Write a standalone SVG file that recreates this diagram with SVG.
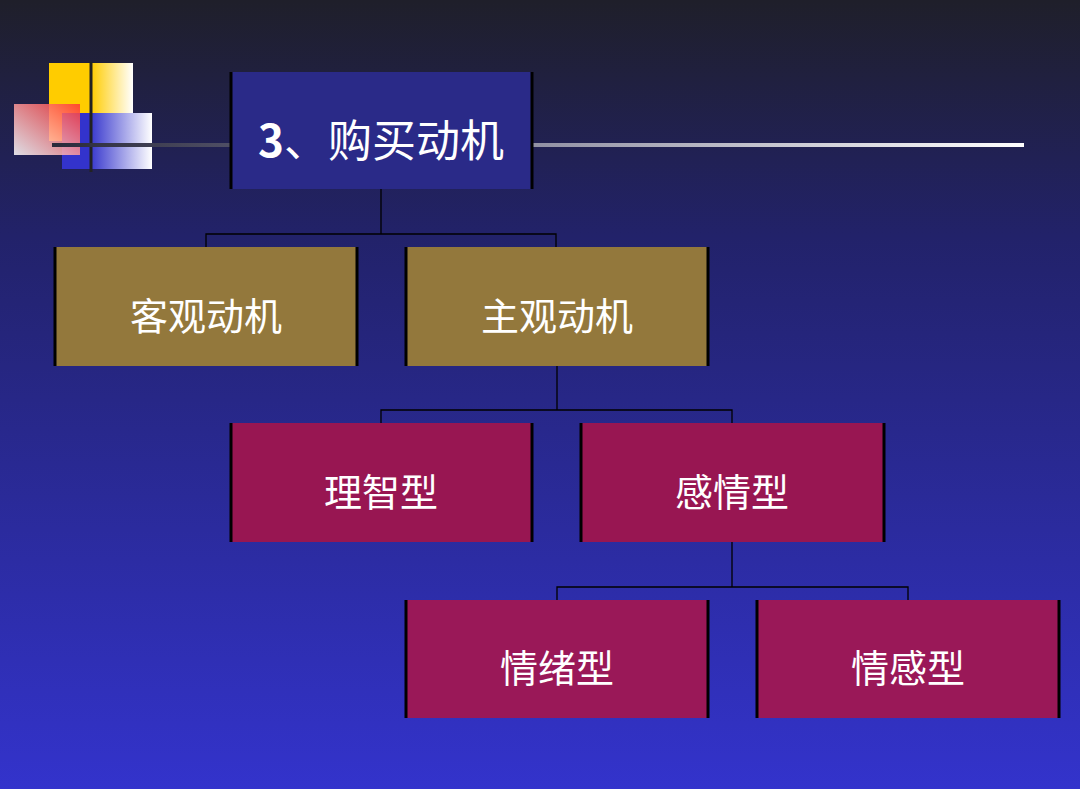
<svg xmlns="http://www.w3.org/2000/svg" width="1080" height="789" viewBox="0 0 1080 789">
<defs>
<linearGradient id="bg" x1="0" y1="0" x2="0" y2="1"><stop offset="0" stop-color="#1f1f2a"/><stop offset="0.3" stop-color="#22226a"/><stop offset="1" stop-color="#3333cc"/></linearGradient>
<linearGradient id="ln" x1="0" y1="0" x2="1" y2="0"><stop offset="0" stop-color="#2a2a3a"/><stop offset="0.3" stop-color="#666680"/><stop offset="1" stop-color="#ffffff"/></linearGradient>
<linearGradient id="yl" x1="0" y1="0" x2="1" y2="0"><stop offset="0.5" stop-color="#ffcc00"/><stop offset="1" stop-color="#ffffff"/></linearGradient>
<linearGradient id="bl" x1="0" y1="0" x2="1" y2="0"><stop offset="0.3" stop-color="#3333cc"/><stop offset="1" stop-color="#ffffff"/></linearGradient>
<linearGradient id="rd" x1="1" y1="0" x2="0" y2="1"><stop offset="0" stop-color="#ff3333"/><stop offset="1" stop-color="#ffffff"/></linearGradient>
<style>
.t{font-family:"Noto Sans CJK SC","Noto Sans",sans-serif;fill:#fff;font-size:38px;text-anchor:middle;dominant-baseline:central}
.e{stroke:#000;stroke-width:3}
.c{stroke:#000;stroke-width:1.3;fill:none}
</style>
</defs>
<rect width="1080" height="789" fill="url(#bg)"/>
<rect x="49" y="63" width="84" height="78" fill="url(#yl)"/>
<rect x="62" y="113" width="90" height="56" fill="url(#bl)"/>
<rect x="14" y="104" width="66" height="51" fill="url(#rd)" opacity="0.85"/>
<line x1="91" y1="62" x2="91" y2="172" stroke="#222" stroke-width="3"/>
<rect x="52" y="143" width="972" height="4" fill="url(#ln)"/>
<g id="connectors">
<path class="c" d="M381 189V234M206 247V234H556V247"/>
<path class="c" d="M557 366V410M381 423V410H732V423"/>
<path class="c" d="M732 542V587M557 600V587H908V600"/>
</g>
<g id="n0"><rect x="230" y="72" width="303" height="117" fill="#2a2a88"/><path class="e" d="M231 72V189M532 72V189"/><text class="t" x="381" y="138" style="font-size:44px"><tspan font-weight="bold">3</tspan>、购买动机</text></g>
<g id="n1"><rect x="54" y="247" width="304" height="119" fill="#93783c"/><path class="e" d="M55 247V366M357 247V366"/><text class="t" x="206" y="313">客观动机</text></g>
<g id="n2"><rect x="405" y="247" width="304" height="119" fill="#93783c"/><path class="e" d="M406 247V366M708 247V366"/><text class="t" x="557" y="313">主观动机</text></g>
<g id="n3"><rect x="230" y="423" width="303" height="119" fill="#981652"/><path class="e" d="M231 423V542M532 423V542"/><text class="t" x="381" y="489">理智型</text></g>
<g id="n4"><rect x="580" y="423" width="305" height="119" fill="#981652"/><path class="e" d="M581 423V542M884 423V542"/><text class="t" x="732" y="489">感情型</text></g>
<g id="n5"><rect x="405" y="600" width="304" height="118" fill="#9a1858"/><path class="e" d="M406 600V718M708 600V718"/><text class="t" x="557" y="665">情绪型</text></g>
<g id="n6"><rect x="756" y="600" width="304" height="118" fill="#9a1858"/><path class="e" d="M757 600V718M1059 600V718"/><text class="t" x="908" y="665">情感型</text></g>
</svg>
